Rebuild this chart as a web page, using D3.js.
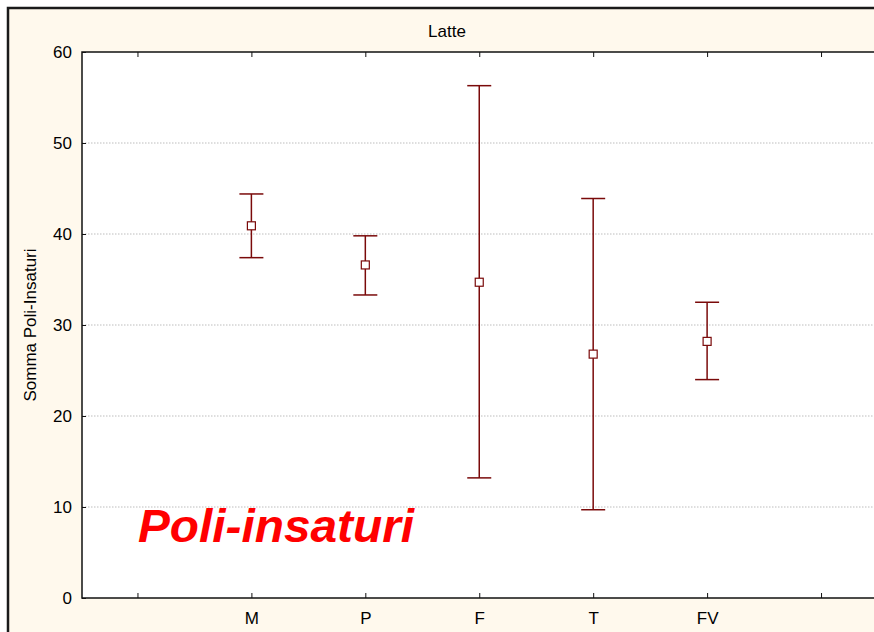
<!DOCTYPE html>
<html>
<head>
<meta charset="utf-8">
<script src="https://cdn.jsdelivr.net/npm/d3@7"></script>
<style>
  html, body { margin: 0; padding: 0; background: #ffffff; }
  svg { display: block; }
  text { font-family: Arial, "Liberation Sans", sans-serif; }
</style>
</head>
<body>
<script>
// Group means with their confidence limits (Somma Poli-Insaturi, Latte)
const categories = ["M", "P", "F", "T", "FV"];
const means = [40.9, 36.6, 34.7, 26.8, 28.2];
const upper = [44.4, 39.8, 56.3, 43.9, 32.5];
const lower = [37.4, 33.3, 13.2, 9.7, 24.0];
const yTicks = [0, 10, 20, 30, 40, 50, 60];
const xTickPositions = [-1, 0, 1, 2, 3, 4, 5];

const W = 874, H = 632;
const svg = d3.select("body").append("svg").attr("width", W).attr("height", H);

const plot = { left: 82, right: 878, top: 52, bottom: 598 };
const dark = "#7a0a0a";

// Figure background and frame
svg.append("rect").attr("x", 8).attr("y", 8).attr("width", W + 20).attr("height", H + 20)
  .attr("fill", "#fff9ed").attr("stroke", "#1a1a1a").attr("stroke-width", 2.5);

// Plot area
svg.append("rect")
  .attr("x", plot.left).attr("y", plot.top)
  .attr("width", plot.right - plot.left).attr("height", plot.bottom - plot.top)
  .attr("fill", "#ffffff");

const x = d3.scaleLinear().domain([-1.5, 5.5]).range([plot.left - 1.5, plot.right]);
const y = d3.scaleLinear().domain([0, 60]).range([plot.bottom, plot.top]);

// Dotted horizontal grid lines
svg.append("g").selectAll("line")
  .data(yTicks.filter(t => t > 0 && t < 60))
  .join("line")
  .attr("x1", plot.left).attr("x2", plot.right)
  .attr("y1", d => y(d)).attr("y2", d => y(d))
  .attr("stroke", "#bdbdbd").attr("stroke-width", 1)
  .attr("stroke-dasharray", "1.5,1.5");

// Plot border
svg.append("rect")
  .attr("x", plot.left).attr("y", plot.top)
  .attr("width", plot.right - plot.left).attr("height", plot.bottom - plot.top)
  .attr("fill", "none").attr("stroke", "#111").attr("stroke-width", 1.5);

// Left axis: inward ticks and labels
const yAxis = svg.append("g").attr("transform", `translate(${plot.left},0)`)
  .call(d3.axisLeft(y).tickValues(yTicks).tickSizeInner(-4).tickSizeOuter(0).tickPadding(10));
yAxis.select(".domain").remove();
yAxis.selectAll("line").attr("stroke", "#111");
yAxis.selectAll("text").attr("font-size", 17).attr("fill", "#000").attr("dy", "0.35em");

// Bottom axis: inward ticks and category labels
const labelFor = d => (d >= 0 && d < categories.length) ? categories[d] : "";
const xAxis = svg.append("g").attr("transform", `translate(0,${plot.bottom})`)
  .call(d3.axisBottom(x).tickValues(xTickPositions).tickFormat(labelFor)
    .tickSizeInner(-5).tickSizeOuter(0).tickPadding(14));
xAxis.select(".domain").remove();
xAxis.selectAll("line").attr("stroke", "#111");
xAxis.selectAll("text").attr("font-size", 17).attr("fill", "#000");

// Top axis: inward ticks only
const topAxis = svg.append("g").attr("transform", `translate(0,${plot.top})`)
  .call(d3.axisTop(x).tickValues(xTickPositions).tickFormat("").tickSizeInner(-5).tickSizeOuter(0));
topAxis.select(".domain").remove();
topAxis.selectAll("line").attr("stroke", "#111");

// Title
svg.append("text").attr("x", 447).attr("y", 37).attr("text-anchor", "middle")
  .attr("font-size", 17).text("Latte");

// Y axis title
svg.append("text")
  .attr("transform", `translate(36,${(plot.top + plot.bottom) / 2}) rotate(-90)`)
  .attr("text-anchor", "middle").attr("font-size", 17)
  .text("Somma Poli-Insaturi");

// Error bars
const data = categories.map((c, i) => ({ c, i, m: means[i], hi: upper[i], lo: lower[i] }));
const capW = 12;
const g = svg.append("g").attr("stroke", dark).attr("stroke-width", 1.5).attr("fill", "none");
g.selectAll(".stem").data(data).join("line").attr("class", "stem")
  .attr("x1", d => x(d.i)).attr("x2", d => x(d.i))
  .attr("y1", d => y(d.hi)).attr("y2", d => y(d.lo));
g.selectAll(".capHi").data(data).join("line").attr("class", "capHi")
  .attr("x1", d => x(d.i) - capW).attr("x2", d => x(d.i) + capW)
  .attr("y1", d => y(d.hi)).attr("y2", d => y(d.hi));
g.selectAll(".capLo").data(data).join("line").attr("class", "capLo")
  .attr("x1", d => x(d.i) - capW).attr("x2", d => x(d.i) + capW)
  .attr("y1", d => y(d.lo)).attr("y2", d => y(d.lo));

// Mean markers
svg.append("g").selectAll("rect").data(data).join("rect")
  .attr("x", d => x(d.i) - 4).attr("y", d => y(d.m) - 4)
  .attr("width", 8).attr("height", 8)
  .attr("fill", "#ffffff").attr("stroke", dark).attr("stroke-width", 1.2);

// Annotation
svg.append("text").attr("x", 138).attr("y", 542)
  .attr("font-size", 47).attr("font-weight", "bold").attr("font-style", "italic")
  .attr("textLength", 276).attr("lengthAdjust", "spacingAndGlyphs")
  .attr("fill", "#ff0000").text("Poli-insaturi");
</script>
</body>
</html>
